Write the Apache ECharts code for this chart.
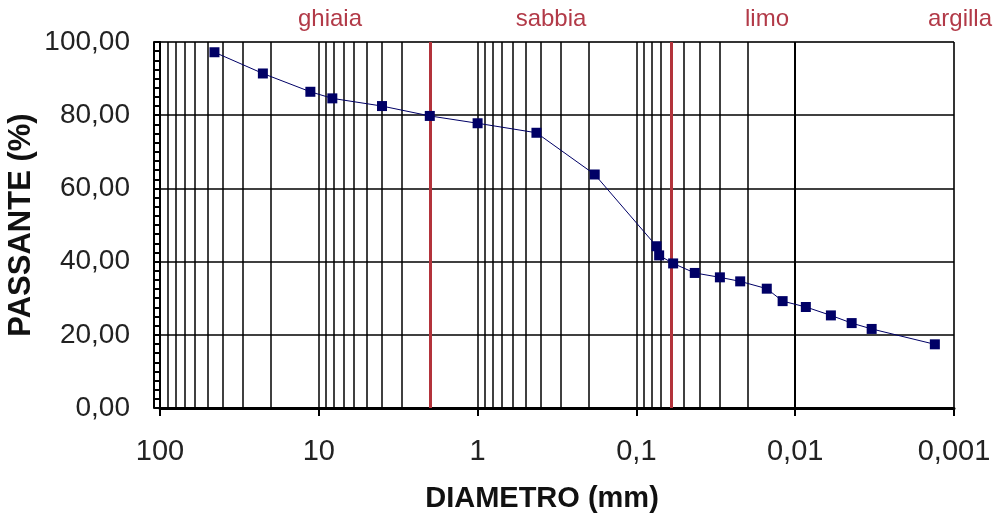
<!DOCTYPE html>
<html>
<head>
<meta charset="utf-8">
<script src="https://cdn.jsdelivr.net/npm/echarts@6/dist/echarts.min.js"></script>
<style>
html,body{margin:0;padding:0;background:#fff;}
#chart{width:994px;height:515px;}
</style>
</head>
<body>
<div id="chart"></div>
<script>
// ---- data ----
var diametri = [45.4, 22.5, 11.3, 8.22, 4.0, 2.0, 1.0, 0.426, 0.183, 0.0747, 0.0719, 0.0587, 0.0429, 0.0298, 0.0222, 0.0151, 0.0120, 0.00857, 0.00596, 0.00441, 0.00330, 0.00132];
var passante = [97.2, 91.4, 86.4, 84.6, 82.5, 79.8, 77.8, 75.2, 63.8, 44.2, 41.7, 39.5, 36.9, 35.7, 34.6, 32.6, 29.2, 27.6, 25.3, 23.2, 21.6, 17.4];
var limiti = [2, 0.06, 0.002];
var classi = ['ghiaia', 'sabbia', 'limo', 'argilla'];
var xTickLabels = {'2':'100','1':'10','0':'1','-1':'0,1','-2':'0,01','-3':'0,001'};

var seriesData = diametri.map(function (d, i) { return [d, passante[i]]; });

// minor log grid (2..9 x 10^k)
var gridVals = [];
for (var k = -3; k <= 1; k++) {
  for (var m = 2; m <= 9; m++) gridVals.push(m * Math.pow(10, k));
}

var chart = echarts.init(document.getElementById('chart'), null, {renderer: 'canvas'});
var FONT = 'Liberation Sans, Arial, sans-serif';
var RED = '#b3333b';
var LBL = '#b23a48';

var option = {
  animation: false,
  backgroundColor: '#ffffff',
  grid: {left: 160, right: 40, top: 42, bottom: 107, show: true, borderColor: '#a0a0a0', borderWidth: 1,
         containLabel: false, outerBoundsMode: 'none'},
  xAxis: {
    type: 'log', logBase: 10, min: 0.001, max: 100, inverse: true,
    name: 'DIAMETRO (mm)', nameLocation: 'middle', nameGap: 76, nameMoveOverlap: false,
    nameTextStyle: {fontFamily: FONT, fontWeight: 'bold', fontSize: 29, color: '#111', padding: [0, 30, 0, 0]},
    axisLine: {show: true, lineStyle: {color: '#000', width: 3}},
    axisTick: {show: true, inside: false, length: 8, lineStyle: {color: '#000', width: 2}},
    axisLabel: {
      fontFamily: FONT, fontSize: 29, color: '#222', margin: 29,
      formatter: function (v) { return xTickLabels[String(Math.round(Math.log10(v)))] || ''; }
    },
    splitLine: {show: true, lineStyle: {color: '#000', width: 1.5}},
    minorTick: {show: false},
    minorSplitLine: {show: false}
  },
  yAxis: [{
    type: 'value', min: 0, max: 100, interval: 20,
    name: 'PASSANTE (%)', nameLocation: 'middle', nameGap: 123, nameRotate: 90, nameMoveOverlap: false,
    nameTextStyle: {fontFamily: FONT, fontWeight: 'bold', fontSize: 31, color: '#111'},
    axisLine: {show: true, lineStyle: {color: '#000', width: 2}},
    axisTick: {show: true, inside: false, length: 6, lineStyle: {color: '#000', width: 2}},
    minorTick: {show: true, splitNumber: 8, length: 6, lineStyle: {color: '#000', width: 2}},
    axisLabel: {
      fontFamily: FONT, fontSize: 28, color: '#222', margin: 30,
      formatter: function (v) { return v.toFixed(2).replace('.', ','); }
    },
    splitLine: {show: true, lineStyle: {color: '#000', width: 1.5}}
  }, {
    type: 'value', min: 0, max: 100, interval: 20, position: 'left', offset: 6,
    axisLine: {show: true, lineStyle: {color: '#000', width: 2}},
    axisTick: {show: false}, axisLabel: {show: false}, splitLine: {show: false}
  }],
  series: [{
    type: 'line', data: [], z: 1, silent: true,
    markLine: {
      silent: true, symbol: 'none', label: {show: false}, animation: false,
      lineStyle: {color: '#000', width: 1.5, type: 'solid'},
      data: gridVals.map(function (v) { return {xAxis: v}; })
    }
  }, {
    type: 'line', data: [], z: 2, silent: true,
    markLine: {
      silent: true, symbol: 'none', animation: false,
      lineStyle: {color: RED, width: 3, type: 'solid'},
      label: {show: false},
      data: limiti.map(function (v) { return {xAxis: v}; })
    }
  }, {
    type: 'line', data: seriesData, z: 5,
    symbol: 'rect', symbolSize: 10,
    itemStyle: {color: '#000066'},
    lineStyle: {color: '#000066', width: 1}
  }],
  graphic: [
    {type: 'text', x: 330, y: 7, style: {text: classi[0], fontFamily: FONT, fontSize: 24, fill: LBL, align: 'center', textAlign: 'center'}},
    {type: 'text', x: 551, y: 7, style: {text: classi[1], fontFamily: FONT, fontSize: 24, fill: LBL, align: 'center', textAlign: 'center'}},
    {type: 'text', x: 767, y: 7, style: {text: classi[2], fontFamily: FONT, fontSize: 24, fill: LBL, align: 'center', textAlign: 'center'}},
    {type: 'text', x: 960, y: 7, style: {text: classi[3], fontFamily: FONT, fontSize: 24, fill: LBL, align: 'center', textAlign: 'center'}}
  ]
};
chart.setOption(option);
</script>
</body>
</html>
